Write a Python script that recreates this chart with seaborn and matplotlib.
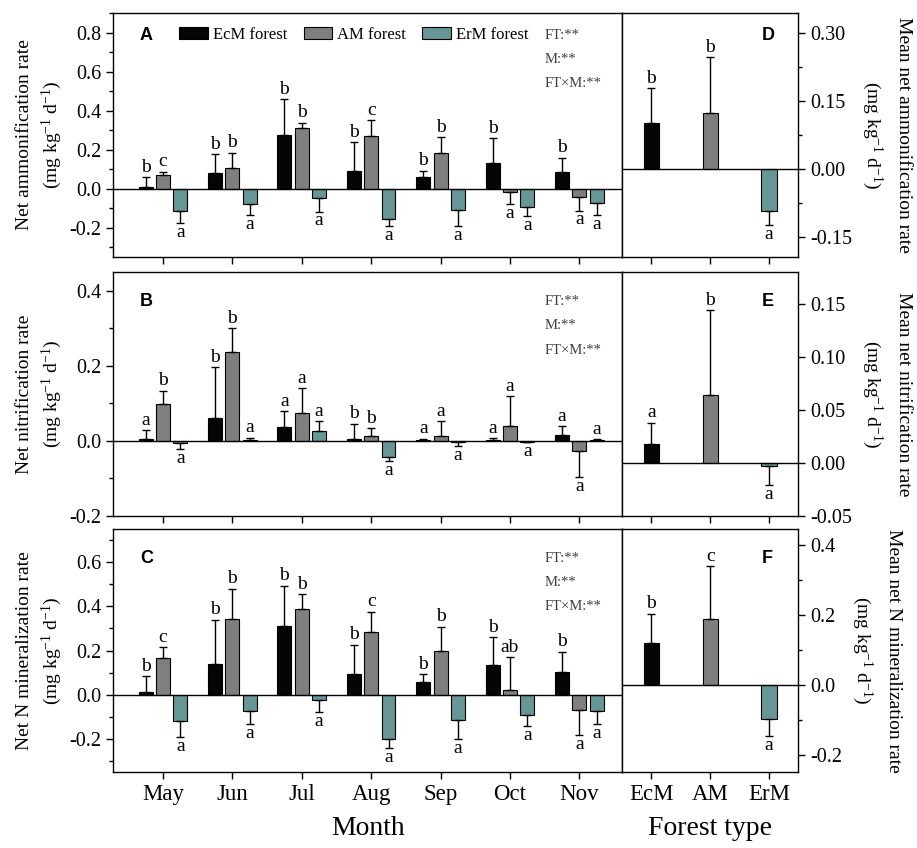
import numpy as np
import pandas as pd
import matplotlib
matplotlib.use("Agg")
import matplotlib.pyplot as plt
from matplotlib.ticker import MultipleLocator, FormatStrFormatter
import seaborn as sns

# --- data ---
months = ["May", "Jun", "Jul", "Aug", "Sep", "Oct", "Nov"]
forests = ["EcM forest", "AM forest", "ErM forest"]
types = ["EcM", "AM", "ErM"]
colors = ["#050505", "#7f7f7f", "#5f9e9e"]

# A: net ammonification
amm_ecm = [0.009, 0.079, 0.275, 0.089, 0.058, 0.130, 0.084]
amm_am = [0.072, 0.104, 0.311, 0.270, 0.185, -0.015, -0.041]
amm_erm = [-0.113, -0.080, -0.050, -0.156, -0.111, -0.092, -0.073]
amm_ecm_se = [0.051, 0.097, 0.185, 0.149, 0.034, 0.128, 0.075]
amm_am_se = [0.015, 0.081, 0.027, 0.080, 0.080, 0.065, 0.072]
amm_erm_se = [0.065, 0.055, 0.068, 0.037, 0.082, 0.048, 0.062]
amm_ecm_lab = ["b", "b", "b", "b", "b", "b", "b"]
amm_am_lab = ["c", "b", "b", "c", "b", "a", "a"]
amm_erm_lab = ["a", "a", "a", "a", "a", "a", "a"]

# B: net nitrification
nit_ecm = [0.005, 0.060, 0.036, 0.004, 0.002, 0.003, 0.017]
nit_am = [0.099, 0.238, 0.074, 0.014, 0.012, 0.039, -0.027]
nit_erm = [-0.005, 0.002, 0.026, -0.042, -0.004, -0.003, 0.002]
nit_ecm_se = [0.023, 0.136, 0.043, 0.042, 0.004, 0.004, 0.023]
nit_am_se = [0.035, 0.063, 0.066, 0.020, 0.041, 0.081, 0.070]
nit_erm_se = [0.016, 0.007, 0.026, 0.012, 0.009, 0.001, 0.002]
nit_ecm_lab = ["a", "b", "a", "b", "a", "a", "a"]
nit_am_lab = ["b", "b", "a", "b", "a", "a", "a"]
nit_erm_lab = ["a", "a", "a", "a", "a", "a", "a"]

# C: net N mineralization
min_ecm = [0.014, 0.139, 0.310, 0.094, 0.057, 0.134, 0.101]
min_am = [0.168, 0.343, 0.388, 0.284, 0.196, 0.023, -0.070]
min_erm = [-0.119, -0.073, -0.023, -0.200, -0.115, -0.094, -0.074]
min_ecm_se = [0.071, 0.200, 0.184, 0.133, 0.035, 0.126, 0.094]
min_am_se = [0.048, 0.136, 0.067, 0.092, 0.111, 0.146, 0.114]
min_erm_se = [0.073, 0.060, 0.057, 0.043, 0.085, 0.048, 0.059]
min_ecm_lab = ["b", "b", "b", "b", "b", "b", "b"]
min_am_lab = ["c", "b", "b", "c", "b", "ab", "a"]
min_erm_lab = ["a", "a", "a", "a", "a", "a", "a"]

# D-F: means by forest type
amm_mean = [0.102, 0.124, -0.094]
amm_mean_se = [0.077, 0.123, 0.030]
amm_mean_lab = ["b", "b", "a"]
nit_mean = [0.018, 0.064, -0.0025]
nit_mean_se = [0.020, 0.080, 0.0185]
nit_mean_lab = ["a", "b", "a"]
min_mean = [0.118, 0.188, -0.098]
min_mean_se = [0.085, 0.150, 0.049]
min_mean_lab = ["b", "c", "a"]

stats_text = ["FT:**", "M:**", "FT\u00d7M:**"]

# --- style ---
sns.set_style("ticks")
plt.rcParams["font.family"] = ["Liberation Serif", "DejaVu Serif"]
plt.rcParams["mathtext.fontset"] = "custom"
plt.rcParams["mathtext.rm"] = "Liberation Serif"
plt.rcParams["mathtext.it"] = "Liberation Serif:italic"
plt.rcParams["axes.unicode_minus"] = False
plt.rcParams["axes.edgecolor"] = "black"
plt.rcParams["axes.linewidth"] = 1.0
plt.rcParams["xtick.color"] = "black"
plt.rcParams["ytick.color"] = "black"
plt.rcParams["text.color"] = "black"
plt.rcParams["axes.labelcolor"] = "black"

unit = "(mg kg$^{-1}$ d$^{-1}$)"


def add_errors(ax, conts, means, errs, letters):
    for cont, m, e, lab in zip(conts, means, errs, letters):
        bars = sorted(cont.patches, key=lambda p: p.get_x())
        xs = [b.get_x() + b.get_width() / 2 for b in bars]
        m = np.array(m)
        e = np.array(e)
        lo = np.where(m < 0, e, 0)
        hi = np.where(m < 0, 0, e)
        ax.errorbar(xs, m, yerr=[lo, hi], fmt="none", ecolor="black",
                    elinewidth=1, capsize=2.6, capthick=1)
        for x, v, s, t in zip(xs, m, e, lab):
            if v < 0:
                ax.annotate(t, (x, v - s), xytext=(0, -0.5), textcoords="offset points",
                            ha="center", va="top", fontsize=14)
            else:
                ax.annotate(t, (x, v + s), xytext=(0, 1.0), textcoords="offset points",
                            ha="center", va="bottom", fontsize=14)


def style_y(ax, ylim, step, minor, fmt):
    ax.set_ylim(*ylim)
    ax.yaxis.set_major_locator(MultipleLocator(step))
    if minor:
        ax.yaxis.set_minor_locator(MultipleLocator(step / 2))
    ax.yaxis.set_major_formatter(FormatStrFormatter(fmt))
    ax.tick_params(axis="y", which="major", length=5, width=1, labelsize=14.5)
    ax.tick_params(axis="y", which="minor", length=3, width=1)
    ax.tick_params(axis="x", length=5, width=1, labelsize=16.5)
    ax.axhline(0, color="black", lw=1, zorder=1)
    for sp in ax.spines.values():
        sp.set_visible(True)
        sp.set_linewidth(1.0)


def month_panel(ax, means, errs, letters, ylim, step, ylabel, tag, tag_y, show_x):
    df = pd.DataFrame({
        "month": np.tile(months, 3),
        "forest": np.repeat(forests, len(months)),
        "rate": np.concatenate(means),
    })
    sns.barplot(data=df, x="month", y="rate", hue="forest", order=months,
                hue_order=forests, palette=colors, width=0.75, gap=0.2,
                edgecolor="black", linewidth=0.8, errorbar=None,
                legend=(tag == "A"), ax=ax)
    conts = list(ax.containers[:3])
    add_errors(ax, conts, means, errs, letters)
    ax.set_xlim(-0.72, 6.62)
    style_y(ax, ylim, step, True, "%.1f")
    ax.set_ylabel(ylabel + "\n" + unit, fontsize=14, labelpad=4, linespacing=1.35)
    ax.text(0.053, tag_y, tag, transform=ax.transAxes, fontsize=13,
            fontweight="bold", family="Liberation Sans", va="center")
    for i, s in enumerate(stats_text):
        ax.text(0.847, tag_y - 0.1 * i, s, transform=ax.transAxes,
                fontsize=10.5, color="#404040", va="center")
    if show_x:
        ax.set_xlabel("Month", fontsize=20, labelpad=8)
    else:
        ax.set_xlabel("")
        ax.tick_params(axis="x", labelbottom=False)


def type_panel(ax, means, errs, letters, ylim, step, minor, fmt, ylabel, tag, tag_y, show_x):
    df = pd.DataFrame({"type": types, "rate": means})
    sns.barplot(data=df, x="type", y="rate", hue="type", order=types,
                hue_order=types, palette=colors, width=0.26, dodge=False,
                edgecolor="black", linewidth=0.8, errorbar=None, legend=False, ax=ax)
    bars = sorted(ax.patches, key=lambda p: p.get_x())
    for b, m, e, t in zip(bars, means, errs, letters):
        add_errors(ax, [type("C", (), {"patches": [b]})()], [[m]], [[e]], [[t]])
    ax.set_xlim(-0.49, 2.49)
    style_y(ax, ylim, step, minor, fmt)
    ax.yaxis.tick_right()
    ax.yaxis.set_label_position("right")
    ax.set_ylabel(ylabel + "\n" + unit, fontsize=14, rotation=270,
                  va="bottom", labelpad=6, linespacing=1.6)
    ax.text(0.795, tag_y, tag, transform=ax.transAxes, fontsize=13,
            fontweight="bold", family="Liberation Sans", va="center")
    if show_x:
        ax.set_xlabel("Forest type", fontsize=20, labelpad=8)
    else:
        ax.set_xlabel("")
        ax.tick_params(axis="x", labelbottom=False)


fig = plt.figure(figsize=(9.17, 8.48), dpi=100)
L, LW = 0.1232, 0.5556
R, RW = 0.6788, 0.1914
rows = [(0.6969, 0.2877), (0.3915, 0.2877), (0.0896, 0.2866)]

axA = fig.add_axes([L, rows[0][0], LW, rows[0][1]])
axB = fig.add_axes([L, rows[1][0], LW, rows[1][1]])
axC = fig.add_axes([L, rows[2][0], LW, rows[2][1]])
axD = fig.add_axes([R, rows[0][0], RW, rows[0][1]])
axE = fig.add_axes([R, rows[1][0], RW, rows[1][1]])
axF = fig.add_axes([R, rows[2][0], RW, rows[2][1]])

month_panel(axA, [amm_ecm, amm_am, amm_erm], [amm_ecm_se, amm_am_se, amm_erm_se],
            [amm_ecm_lab, amm_am_lab, amm_erm_lab], (-0.35, 0.9), 0.2,
            "Net ammonification rate", "A", 0.91, False)
month_panel(axB, [nit_ecm, nit_am, nit_erm], [nit_ecm_se, nit_am_se, nit_erm_se],
            [nit_ecm_lab, nit_am_lab, nit_erm_lab], (-0.2, 0.45), 0.2,
            "Net nitrification rate", "B", 0.88, False)
month_panel(axC, [min_ecm, min_am, min_erm], [min_ecm_se, min_am_se, min_erm_se],
            [min_ecm_lab, min_am_lab, min_erm_lab], (-0.35, 0.75), 0.2,
            "Net N mineralization rate", "C", 0.88, True)

sns.move_legend(axA, "center left", bbox_to_anchor=(0.13, 0.91), ncol=3,
                frameon=False, title=None, fontsize=12, handlelength=1.7,
                handleheight=0.7, handletextpad=0.3, columnspacing=1.0,
                borderpad=0, borderaxespad=0)

type_panel(axD, amm_mean, amm_mean_se, amm_mean_lab, (-0.195, 0.345), 0.15, True,
           "%.2f", "Mean net ammonification rate", "D", 0.91, False)
type_panel(axE, nit_mean, nit_mean_se, nit_mean_lab, (-0.05, 0.18), 0.05, False,
           "%.2f", "Mean net nitrification rate", "E", 0.88, False)
type_panel(axF, min_mean, min_mean_se, min_mean_lab, (-0.25, 0.445), 0.2, True,
           "%.1f", "Mean net N mineralization rate", "F", 0.88, True)

fig.savefig("out.png", dpi=100)
